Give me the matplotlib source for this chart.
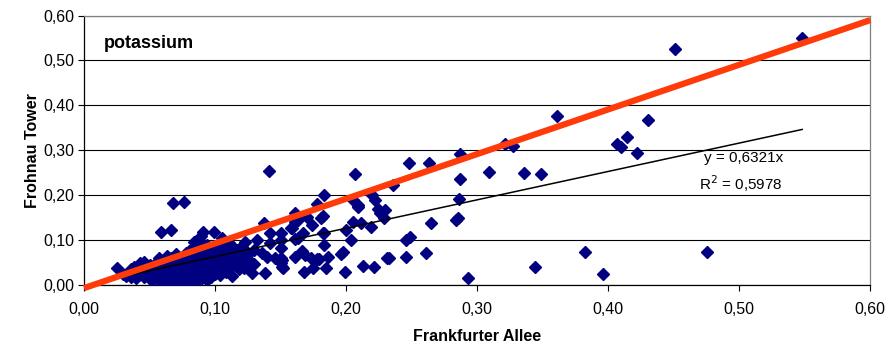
import matplotlib.pyplot as plt
import numpy as np
from matplotlib.ticker import FuncFormatter, MultipleLocator

plt.rcParams['font.family'] = ['Liberation Sans', 'DejaVu Sans']

# Frankfurter Allee (x) vs Frohnau Tower (y), potassium
frankfurter = [
    0.548, 0.451, 0.430, 0.414, 0.407, 0.410, 0.422, 0.382, 0.475, 0.396,
    0.361, 0.321, 0.327, 0.287, 0.248, 0.263, 0.309, 0.336, 0.349, 0.207,
    0.287, 0.236, 0.183, 0.205, 0.220, 0.222, 0.286, 0.209, 0.209, 0.224,
    0.230, 0.226, 0.229, 0.182, 0.181, 0.170, 0.161, 0.159, 0.174, 0.150,
    0.285, 0.284, 0.265, 0.205, 0.211, 0.219, 0.200, 0.167, 0.182, 0.161,
    0.204, 0.246, 0.249, 0.183, 0.198, 0.196, 0.166, 0.169, 0.173, 0.178,
    0.186, 0.161, 0.150, 0.151, 0.231, 0.233, 0.246, 0.261, 0.213, 0.221,
    0.175, 0.168, 0.185, 0.199, 0.293, 0.344,
    0.141, 0.068, 0.076, 0.059, 0.066, 0.091, 0.099, 0.089, 0.105, 0.137,
    0.132, 0.158, 0.178, 0.163, 0.142, 0.150, 0.111, 0.114, 0.117, 0.121,
    0.130, 0.136, 0.140, 0.146, 0.119, 0.138, 0.128, 0.122, 0.114, 0.112,
    0.114, 0.104, 0.097, 0.094, 0.091, 0.122, 0.111, 0.126, 0.130, 0.152,
    0.150, 0.161, 0.025, 0.038, 0.046, 0.067, 0.080, 0.109, 0.142, 0.163,
    0.183, 0.150, 0.151, 0.179,
    0.030, 0.032, 0.034, 0.036, 0.038, 0.040, 0.040, 0.042, 0.044, 0.045,
    0.046, 0.048, 0.048, 0.050, 0.050, 0.052, 0.053, 0.054, 0.055, 0.056,
    0.057, 0.058, 0.059, 0.060, 0.061, 0.062, 0.063, 0.064, 0.065, 0.066,
    0.067, 0.068, 0.069, 0.070, 0.070, 0.071, 0.072, 0.073, 0.074, 0.075,
    0.076, 0.077, 0.078, 0.079, 0.080, 0.081, 0.082, 0.083, 0.084, 0.085,
    0.086, 0.087, 0.088, 0.089, 0.090, 0.091, 0.092, 0.093, 0.094, 0.095,
    0.096, 0.097, 0.098, 0.099, 0.100, 0.101, 0.102, 0.103, 0.104, 0.105,
    0.106, 0.107, 0.108, 0.109, 0.110, 0.112, 0.113, 0.115, 0.116, 0.118,
    0.120, 0.123, 0.125, 0.127, 0.043, 0.036, 0.060, 0.074, 0.052, 0.085,
    0.078, 0.084, 0.088, 0.063, 0.057,
]
frohnau = [
    0.549, 0.526, 0.367, 0.330, 0.314, 0.308, 0.293, 0.073, 0.074, 0.024,
    0.377, 0.314, 0.310, 0.292, 0.271, 0.271, 0.252, 0.250, 0.247, 0.247,
    0.236, 0.223, 0.200, 0.189, 0.200, 0.189, 0.191, 0.178, 0.173, 0.169,
    0.167, 0.160, 0.149, 0.154, 0.149, 0.152, 0.141, 0.126, 0.134, 0.115,
    0.149, 0.145, 0.139, 0.141, 0.139, 0.128, 0.122, 0.116, 0.115, 0.102,
    0.100, 0.100, 0.106, 0.089, 0.073, 0.069, 0.076, 0.067, 0.059, 0.058,
    0.063, 0.063, 0.060, 0.041, 0.061, 0.059, 0.063, 0.071, 0.042, 0.041,
    0.037, 0.030, 0.037, 0.030, 0.015, 0.039,
    0.254, 0.182, 0.184, 0.119, 0.122, 0.119, 0.117, 0.108, 0.105, 0.137,
    0.100, 0.126, 0.180, 0.145, 0.093, 0.100, 0.093, 0.085, 0.078, 0.082,
    0.078, 0.071, 0.063, 0.059, 0.082, 0.026, 0.026, 0.045, 0.045, 0.056,
    0.063, 0.022, 0.018, 0.011, 0.048, 0.037, 0.045, 0.056, 0.046, 0.037,
    0.048, 0.160, 0.038, 0.041, 0.052, 0.004, 0.007, 0.089, 0.115, 0.104,
    0.115, 0.082, 0.056, 0.057,
    0.025, 0.020, 0.030, 0.018, 0.025, 0.032, 0.015, 0.022, 0.040, 0.028,
    0.017, 0.035, 0.022, 0.045, 0.015, 0.030, 0.040, 0.020, 0.050, 0.027,
    0.012, 0.035, 0.045, 0.022, 0.055, 0.030, 0.015, 0.040, 0.025, 0.060,
    0.048, 0.018, 0.035, 0.070, 0.028, 0.010, 0.045, 0.055, 0.022, 0.038,
    0.065, 0.015, 0.050, 0.030, 0.075, 0.042, 0.020, 0.058, 0.035, 0.085,
    0.048, 0.025, 0.065, 0.040, 0.015, 0.075, 0.055, 0.030, 0.090, 0.045,
    0.065, 0.035, 0.080, 0.055, 0.025, 0.070, 0.045, 0.090, 0.060, 0.035,
    0.078, 0.050, 0.030, 0.065, 0.040, 0.075, 0.020, 0.055, 0.070, 0.035,
    0.060, 0.095, 0.070, 0.040, 0.048, 0.035, 0.005, 0.003, 0.008, 0.005,
    0.072, 0.095, 0.100, 0.065, 0.060,
]

slope = 0.6321
r_squared = 0.5978
ref_x = [0.0, 0.60]      # reference line drawn in red
ref_y = [-0.007, 0.59]

x = np.array(frankfurter)
y = np.array(frohnau)

fig = plt.figure(figsize=(8.88, 3.54), dpi=100)
ax = fig.add_axes([0.0946, 0.195, 0.8855, 0.761])

# horizontal grid lines
ax.set_axisbelow(True)
ax.yaxis.grid(True, color='black', linewidth=0.8)

ax.plot(x, y, linestyle='none', marker='D', markersize=5.7,
        color='#000080', zorder=3)

# linear trend through origin
tx = np.array([x.min(), x.max()])
ax.plot(tx, slope * tx, color='black', linewidth=1.1, zorder=4)

# red reference line
ax.plot(ref_x, ref_y, color='#ff3b0a', linewidth=4.5,
        solid_capstyle='butt', zorder=5, clip_on=False)

ax.set_xlim(0, 0.60)
ax.set_ylim(0, 0.60)
ax.xaxis.set_major_locator(MultipleLocator(0.10))
ax.yaxis.set_major_locator(MultipleLocator(0.10))
fmt = FuncFormatter(lambda v, pos: f"{v:.2f}".replace('.', ','))
ax.xaxis.set_major_formatter(fmt)
ax.yaxis.set_major_formatter(fmt)
ax.tick_params(axis='both', direction='out', length=4, width=0.8,
               labelsize=11.5, colors='black')
ax.tick_params(axis='x', pad=8)
ax.tick_params(axis='y', pad=3)

ax.spines['left'].set_color('black')
ax.spines['bottom'].set_color('black')
ax.spines['top'].set_color('#808080')
ax.spines['right'].set_color('#808080')
for s in ax.spines.values():
    s.set_linewidth(0.9)

ax.set_xlabel('Frankfurter Allee', fontsize=11.5, fontweight='bold', labelpad=9)
ax.set_ylabel('Frohnau Tower', fontsize=11.5, fontweight='bold', labelpad=2)

ax.text(0.015, 0.537, 'potassium', fontsize=13, fontweight='bold',
        va='center', ha='left')
ax.text(0.473, 0.283, 'y = 0,6321x', fontsize=11, va='center', ha='left')
ax.text(0.469, 0.225, 'R$^2$ = 0,5978', fontsize=11, va='center', ha='left')

fig.savefig('out.png', dpi=100)
